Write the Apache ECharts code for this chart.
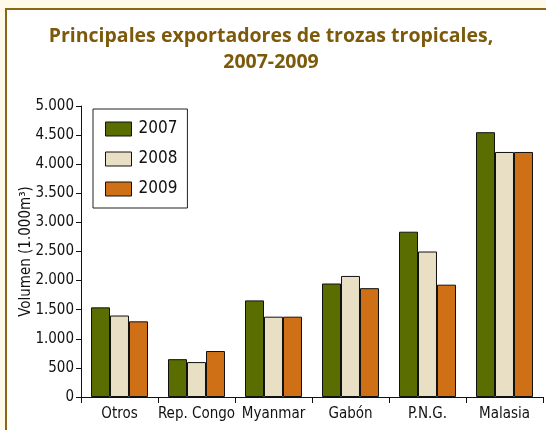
<!DOCTYPE html>
<html>
<head>
<meta charset="utf-8">
<script src="https://cdn.jsdelivr.net/npm/echarts@6/dist/echarts.min.js"></script>
<style>
  html, body { margin: 0; padding: 0; background: #fef9e9; }
  #chart { width: 546px; height: 430px; }
</style>
</head>
<body>
<div id="chart"></div>
<script>
// datos del grafico
var categorias = ['Otros', 'Rep. Congo', 'Myanmar', 'Gabón', 'P.N.G.', 'Malasia'];
var anios = ['2007', '2008', '2009'];
var v2007 = [1540, 650, 1660, 1950, 2840, 4550];
var v2008 = [1400, 600, 1380, 2080, 2500, 4210];
var v2009 = [1300, 790, 1380, 1870, 1930, 4210];
var colores = ['#596d00', '#e8dfc4', '#d07016'];

var fuente = '"Liberation Sans Narrow", "DejaVu Sans Condensed", sans-serif';

function miles(v) {
    // 5000 -> 5.000
    return String(v).replace(/\B(?=(\d{3})+(?!\d))/g, '.');
}

var chart = echarts.init(document.getElementById('chart'));
var valores = [v2007, v2008, v2009];
var series = anios.map(function (a, i) {
    return {
        name: a,
        type: 'bar',
        data: valores[i],
        barGap: '0%',
        barCategoryGap: '26%',
        itemStyle: { color: colores[i], borderColor: '#111', borderWidth: 1 },
        emphasis: { disabled: true }
    };
});

chart.setOption({
    animation: false,
    backgroundColor: '#fef9e9',
    graphic: [{
        type: 'rect',
        z: -10,
        shape: { x: 6, y: 9, width: 560, height: 440 },
        style: { fill: '#ffffff', stroke: '#8a6716', lineWidth: 2 }
    }],
    title: {
        text: 'Principales exportadores de trozas tropicales,\n2007-2009',
        left: 266,
        top: 18,
        textAlign: 'center',
        textStyle: {
            fontFamily: '"Open Sans", sans-serif',
            fontWeight: 'bold',
            fontSize: 19.5,
            lineHeight: 26,
            color: '#7d5a0b'
        }
    },
    legend: {
        orient: 'vertical',
        left: 93,
        top: 109,
        icon: 'rect',
        itemWidth: 26,
        itemHeight: 14,
        itemGap: 13,
        padding: [11.5, 10, 10.5, 12],
        borderColor: '#222',
        borderWidth: 1,
        backgroundColor: '#fff',
        selectedMode: false,
        data: anios,
        itemStyle: { borderColor: '#111', borderWidth: 1 },
        textStyle: { fontFamily: fuente, fontSize: 17, color: '#111', padding: [0, 0, 0, 2] }
    },
    grid: { left: 81, right: 3, top: 106, bottom: 33, containLabel: false },
    xAxis: {
        type: 'category',
        data: categorias,
        axisLine: { lineStyle: { color: '#111', width: 1 } },
        axisTick: { show: true, length: 6, lineStyle: { color: '#111' } },
        axisLabel: { interval: 0, fontFamily: fuente, fontSize: 15, color: '#111', margin: 10 }
    },
    yAxis: {
        type: 'value',
        min: 0,
        max: 5000,
        interval: 500,
        name: 'Volumen (1.000m³)',
        nameLocation: 'middle',
        nameGap: 47,
        nameMoveOverlap: false,
        nameTextStyle: { fontFamily: fuente, fontSize: 15, color: '#111' },
        axisLine: { show: true, lineStyle: { color: '#111', width: 1 } },
        axisTick: { show: true, length: 5, lineStyle: { color: '#111' } },
        splitLine: { show: false },
        axisLabel: {
            fontFamily: fuente, fontSize: 15, color: '#111', margin: 7,
            formatter: function (v) { return miles(v); }
        }
    },
    series: series
});
</script>
</body>
</html>
